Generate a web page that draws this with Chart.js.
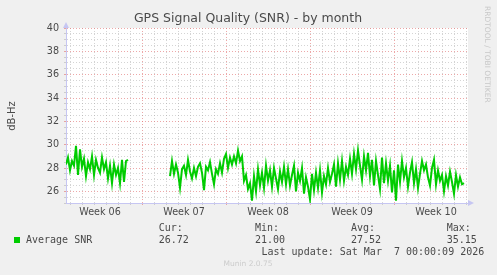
<!DOCTYPE html>
<html>
<head>
<meta charset="utf-8">
<title>GPS Signal Quality (SNR) - by month</title>
<script src="https://cdn.jsdelivr.net/npm/chart.js@4.4.1/dist/chart.umd.min.js"></script>
<style>
  html, body { margin: 0; padding: 0; background: #f0f0f0; }
  #wrap { width: 497px; height: 275px; }
</style>
</head>
<body>
<div id="wrap"><canvas id="snrChart" width="497" height="275"></canvas></div>
<script>
// Samples are 4 hours apart (6 per day), sample 0 = left edge of the graph
const weekLabels = ['Week 06', 'Week 07', 'Week 08', 'Week 09', 'Week 10'];
const samplesPerDay = 6;
const firstMondaySample = 38;
const totalSamples = 201;

const firstRun = [
    28.3, 28.9, 27.8, 28.6, 28.2, 29.9, 27.4, 29.6, 28.1, 28.8, 27.3, 28.5,
    27.9, 29.0, 27.4, 28.7, 28.0, 27.6, 28.9, 27.9, 28.5, 27.1, 28.2, 26.7,
    28.3, 27.4, 28.0, 26.7, 28.7, 26.8, 28.6, 28.7
];
const missingSamples = 20;
const secondRun = [
    27.3, 28.6, 27.5, 28.3, 27.6, 26.3,
    27.9, 28.2, 27.4, 28.7, 27.7, 27.1,
    28.0, 27.3, 28.1, 28.4, 27.6, 26.1,
    28.1, 27.8, 28.5, 27.5, 26.6, 27.9,
    27.5, 28.4, 27.6, 28.8, 29.2, 28.0,
    28.9, 28.3, 29.0, 28.4, 29.5, 28.6,
    29.0, 26.9, 27.4, 26.2, 26.7, 25.2,
    27.3, 26.0, 27.9, 26.5, 27.6, 26.3,
    28.2, 26.9, 27.8, 26.4, 28.0, 27.1,
    26.2, 27.7, 26.8, 28.1, 26.6, 27.9,
    26.5, 27.4, 28.2, 26.0, 27.6, 26.9,
    28.0, 25.8, 27.2, 26.4, 25.3, 27.5,
    26.1, 27.6, 26.3, 27.8, 25.9, 27.3,
    26.6, 28.0, 26.8, 27.5, 28.3, 26.4,
    28.4, 27.0, 28.6, 26.9, 28.1, 27.4,
    28.8, 27.5, 29.2, 27.9, 29.5, 28.2,
    27.0, 29.0, 27.8, 29.3, 27.3, 28.7,
    26.5, 28.6, 27.4, 26.2, 28.9, 26.7,
    28.4, 26.9, 28.2, 25.9, 27.8, 25.2,
    28.3, 26.8, 28.6, 27.2, 28.0, 26.4,
    27.6, 28.5, 26.7, 27.9, 26.3, 27.5,
    28.6, 27.8, 28.3, 27.2, 26.5, 28.0,
    28.7, 26.6, 27.8, 26.9, 27.4, 26.0,
    27.3, 26.5, 27.7, 26.8, 25.8, 27.4,
    26.4, 27.2, 26.6, 26.7
];

const statHeads = ['Cur:', 'Min:', 'Avg:', 'Max:'];
const statValues = ['26.72', '21.00', '27.52', '35.15'];

const snrPoints = [...firstRun, ...new Array(missingSamples).fill(null), ...secondRun]
    .map((v, i) => ({ x: i, y: v }));

const dayTicks = [];
for (let t = firstMondaySample % samplesPerDay; t <= totalSamples; t += samplesPerDay) dayTicks.push(t);
const weekMidTicks = weekLabels.map((_, i) => firstMondaySample - 3.5 * samplesPerDay + i * 7 * samplesPerDay);
const isWeekStart = v => (v - firstMondaySample) % (7 * samplesPerDay) === 0;

const TEXT = '#4a4a4a';
const MINOR = 'rgba(160,160,160,0.45)';
const MAJOR = 'rgba(225,110,110,0.6)';
const AXIS = '#c6c6f2';

const munin = {
    id: 'munin',
    beforeDraw(chart) {
        const { ctx, chartArea: a } = chart;
        ctx.save();
        ctx.fillStyle = '#f0f0f0';
        ctx.fillRect(0, 0, chart.width, chart.height);
        ctx.fillStyle = '#ffffff';
        ctx.fillRect(a.left, a.top, a.right - a.left, a.bottom - a.top);
        ctx.restore();
    },
    afterDraw(chart) {
        const { ctx, chartArea: a } = chart;
        ctx.save();
        // axis arrows
        ctx.fillStyle = AXIS;
        ctx.beginPath();
        ctx.moveTo(a.left - 3, a.top);
        ctx.lineTo(a.left + 3, a.top);
        ctx.lineTo(a.left, a.top - 6);
        ctx.fill();
        ctx.beginPath();
        ctx.moveTo(a.right, a.bottom - 3);
        ctx.lineTo(a.right, a.bottom + 3);
        ctx.lineTo(a.right + 6, a.bottom);
        ctx.fill();

        ctx.textBaseline = 'middle';
        ctx.fillStyle = TEXT;
        ctx.font = '12.5px "DejaVu Sans"';
        ctx.textAlign = 'center';
        ctx.fillText('GPS Signal Quality (SNR) - by month', 248, 19);

        // y axis title
        ctx.save();
        ctx.translate(12, 116);
        ctx.rotate(-Math.PI / 2);
        ctx.font = '10px "DejaVu Sans"';
        ctx.fillText('dB-Hz', 0, 0);
        ctx.restore();

        // watermark on the right
        ctx.save();
        ctx.translate(487, 6);
        ctx.rotate(Math.PI / 2);
        ctx.textAlign = 'left';
        ctx.fillStyle = '#c8c8c8';
        ctx.font = '7.5px "DejaVu Sans"';
        ctx.fillText('RRDTOOL / TOBI OETIKER', 0, 0);
        ctx.restore();

        // legend block
        ctx.font = '10px "DejaVu Sans Mono"';
        ctx.textAlign = 'left';
        const cols = [158.7, 255, 351, 446.7];
        statHeads.forEach((h, i) => ctx.fillText(h, cols[i], 228));
        statValues.forEach((v, i) => ctx.fillText(v, cols[i], 240.5));
        ctx.fillText('Average SNR', 26, 240.5);
        ctx.fillText('Last update: Sat Mar  7 00:00:09 2026', 261.5, 252);
        ctx.fillStyle = '#00cc00';
        ctx.fillRect(14, 237, 6, 6);

        ctx.textAlign = 'center';
        ctx.fillStyle = '#cccccc';
        ctx.font = '7.5px "DejaVu Sans"';
        ctx.fillText('Munin 2.0.75', 248, 264);
        ctx.restore();
    }
};

new Chart(document.getElementById('snrChart'), {
    type: 'line',
    data: {
        datasets: [{
            label: 'Average SNR',
            data: snrPoints,
            borderColor: '#00cc00',
            borderWidth: 2,
            pointRadius: 0,
            tension: 0,
            spanGaps: false
        }]
    },
    options: {
        responsive: false,
        animation: false,
        layout: { padding: { top: 28, right: 29, left: 0, bottom: 0 } },
        plugins: { legend: { display: false }, tooltip: { enabled: false } },
        scales: {
            x: {
                type: 'linear',
                position: 'bottom',
                min: 0,
                max: totalSamples,
                afterBuildTicks: s => { s.ticks = dayTicks.map(v => ({ value: v })); },
                afterFit: s => { s.height = 0; },
                ticks: { display: false },
                grid: {
                    color: c => (c.tick && isWeekStart(c.tick.value)) ? MAJOR : MINOR,
                    drawTicks: true,
                    tickLength: 2,
                    lineWidth: 1
                },
                border: { display: true, color: AXIS, dash: [1, 2] }
            },
            xw: {
                type: 'linear',
                position: 'bottom',
                min: 0,
                max: totalSamples,
                afterBuildTicks: s => { s.ticks = weekMidTicks.map(v => ({ value: v })); },
                afterFit: s => { s.height = 72; },
                ticks: {
                    autoSkip: false,
                    maxRotation: 0,
                    padding: 4,
                    color: TEXT,
                    font: { family: 'DejaVu Sans', size: 9.6 },
                    callback: (v, i) => weekLabels[i]
                },
                grid: { display: false, drawTicks: false },
                border: { display: false }
            },
            y: {
                min: 25,
                max: 40,
                afterBuildTicks: s => {
                    const t = [];
                    for (let v = 25; v <= 40; v += 0.5) t.push({ value: v });
                    s.ticks = t;
                },
                afterFit: s => { s.width = 66; },
                ticks: {
                    autoSkip: false,
                    padding: 5,
                    color: TEXT,
                    font: { family: 'DejaVu Sans', size: 9.6 },
                    callback: v => (v % 2 === 0 ? String(v) : '')
                },
                grid: {
                    color: c => (c.tick && c.tick.value % 2 === 0) ? MAJOR : MINOR,
                    drawTicks: true,
                    tickLength: 2
                },
                border: { display: true, color: AXIS, dash: [1, 2] }
            }
        }
    },
    plugins: [munin]
});
</script>
</body>
</html>
